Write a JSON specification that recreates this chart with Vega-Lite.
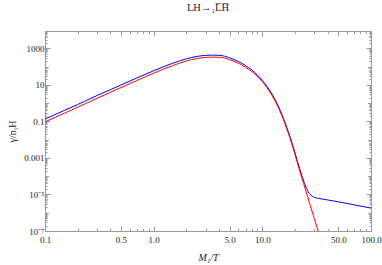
{
  "$schema": "https://vega.github.io/schema/vega-lite/v6.json",
  "width": 326,
  "height": 200,
  "autosize": {"type": "none"},
  "padding": {"left": 45, "top": 31, "right": 11, "bottom": 34},
  "background": "white",
  "config": {
    "view": {"stroke": "#999999", "strokeWidth": 1},
    "axis": {
      "grid": false,
      "domainColor": "#999999",
      "tickColor": "#999999",
      "labelFont": "Liberation Serif",
      "labelFontSize": 9,
      "labelColor": "#222222",
      "titleFont": "Liberation Serif",
      "titleFontWeight": "normal",
      "titleFontSize": 10,
      "titleColor": "#222222",
      "labelOverlap": false,
      "labelFlush": false
    }
  },
  "title": {
    "text": "LH→₁L̅H̅",
    "font": "Liberation Serif",
    "fontSize": 10.5,
    "fontWeight": "normal",
    "color": "#222222",
    "offset": 14,
    "anchor": "middle"
  },
  "data": {
    "values": [
      {"x": 0.1, "y": 0.135, "s": "b"},
      {"x": 0.15, "y": 0.4, "s": "b"},
      {"x": 0.2, "y": 0.85, "s": "b"},
      {"x": 0.3, "y": 2.6, "s": "b"},
      {"x": 0.4, "y": 5.5, "s": "b"},
      {"x": 0.5, "y": 10, "s": "b"},
      {"x": 0.7, "y": 24, "s": "b"},
      {"x": 1.0, "y": 60, "s": "b"},
      {"x": 1.5, "y": 155, "s": "b"},
      {"x": 2.0, "y": 270, "s": "b"},
      {"x": 2.5, "y": 365, "s": "b"},
      {"x": 3.0, "y": 415, "s": "b"},
      {"x": 3.5, "y": 432, "s": "b"},
      {"x": 4.0, "y": 420, "s": "b"},
      {"x": 4.5, "y": 375, "s": "b"},
      {"x": 5.0, "y": 305, "s": "b"},
      {"x": 6.0, "y": 195, "s": "b"},
      {"x": 7.0, "y": 115, "s": "b"},
      {"x": 8.0, "y": 66, "s": "b"},
      {"x": 10.0, "y": 18, "s": "b"},
      {"x": 12.0, "y": 4, "s": "b"},
      {"x": 14.0, "y": 0.72, "s": "b"},
      {"x": 16.0, "y": 0.105, "s": "b"},
      {"x": 18.0, "y": 0.014, "s": "b"},
      {"x": 20.0, "y": 0.0019, "s": "b"},
      {"x": 22.0, "y": 0.00027, "s": "b"},
      {"x": 24.0, "y": 0.000055, "s": "b"},
      {"x": 26.0, "y": 0.000017, "s": "b"},
      {"x": 27.0, "y": 0.0000115, "s": "b"},
      {"x": 28.0, "y": 0.0000091, "s": "b"},
      {"x": 29.0, "y": 0.0000078, "s": "b"},
      {"x": 30.0, "y": 0.000007, "s": "b"},
      {"x": 33.0, "y": 0.0000061, "s": "b"},
      {"x": 40.0, "y": 0.000005, "s": "b"},
      {"x": 50.0, "y": 0.000004, "s": "b"},
      {"x": 70.0, "y": 0.0000027, "s": "b"},
      {"x": 100.0, "y": 0.0000018, "s": "b"},
      {"x": 0.1, "y": 0.095, "s": "r"},
      {"x": 0.15, "y": 0.28, "s": "r"},
      {"x": 0.2, "y": 0.6, "s": "r"},
      {"x": 0.3, "y": 1.85, "s": "r"},
      {"x": 0.4, "y": 3.95, "s": "r"},
      {"x": 0.5, "y": 7.2, "s": "r"},
      {"x": 0.7, "y": 17.5, "s": "r"},
      {"x": 1.0, "y": 44, "s": "r"},
      {"x": 1.5, "y": 115, "s": "r"},
      {"x": 2.0, "y": 205, "s": "r"},
      {"x": 2.5, "y": 280, "s": "r"},
      {"x": 3.0, "y": 320, "s": "r"},
      {"x": 3.5, "y": 335, "s": "r"},
      {"x": 4.0, "y": 325, "s": "r"},
      {"x": 4.5, "y": 292, "s": "r"},
      {"x": 5.0, "y": 240, "s": "r"},
      {"x": 6.0, "y": 157, "s": "r"},
      {"x": 7.0, "y": 94, "s": "r"},
      {"x": 8.0, "y": 54, "s": "r"},
      {"x": 10.0, "y": 15, "s": "r"},
      {"x": 12.0, "y": 3.3, "s": "r"},
      {"x": 14.0, "y": 0.6, "s": "r"},
      {"x": 16.0, "y": 0.088, "s": "r"},
      {"x": 18.0, "y": 0.0116, "s": "r"},
      {"x": 20.0, "y": 0.00155, "s": "r"},
      {"x": 22.0, "y": 0.00021, "s": "r"},
      {"x": 24.0, "y": 0.000039, "s": "r"},
      {"x": 26.0, "y": 0.0000082, "s": "r"},
      {"x": 28.0, "y": 0.0000019, "s": "r"},
      {"x": 30.0, "y": 0.0000005, "s": "r"},
      {"x": 32.0, "y": 0.00000015, "s": "r"},
      {"x": 34.0, "y": 0.000000045, "s": "r"}
    ]
  },
  "layer": [
    {
      "transform": [{"filter": "datum.s == 'b'"}],
      "mark": {"type": "line", "color": "#0000ff", "strokeWidth": 1, "clip": true, "interpolate": "monotone"},
      "encoding": {
        "x": {
          "field": "x", "type": "quantitative",
          "scale": {"type": "log", "domain": [0.1, 100], "nice": false},
          "axis": {
            "orient": "bottom",
            "title": "M₁/T",
            "titleFontStyle": "italic",
            "titlePadding": 6,
            "values": [0.1,0.2,0.3,0.4,0.5,0.6,0.7,0.8,0.9,1,2,3,4,5,6,7,8,9,10,20,30,40,50,60,70,80,90,100],
            "labelExpr": "indexof([0.1,0.5,1,5,10,50,100], datum.value) >= 0 ? format(datum.value, '.1f') : ''",
            "tickSize": {"condition": {"test": "indexof([0.1,0.5,1,5,10,50,100], datum.value) >= 0", "value": -5}, "value": -2.5},
            "labelPadding": 9
          }
        },
        "y": {
          "field": "y", "type": "quantitative",
          "scale": {"type": "log", "domain": [1e-7, 9000], "nice": false},
          "axis": {
            "orient": "left",
            "title": "γ/nᵧH",
            "titlePadding": 6,
            "values": [1e-7,2e-7,3e-7,4e-7,5e-7,6e-7,7e-7,8e-7,9e-7,1e-6,2e-6,3e-6,4e-6,5e-6,6e-6,7e-6,8e-6,9e-6,1e-5,2e-5,3e-5,4e-5,5e-5,6e-5,7e-5,8e-5,9e-5,1e-4,2e-4,3e-4,4e-4,5e-4,6e-4,7e-4,8e-4,9e-4,0.001,0.002,0.003,0.004,0.005,0.006,0.007,0.008,0.009,0.01,0.02,0.03,0.04,0.05,0.06,0.07,0.08,0.09,0.1,0.2,0.3,0.4,0.5,0.6,0.7,0.8,0.9,1,2,3,4,5,6,7,8,9,10,20,30,40,50,60,70,80,90,100,200,300,400,500,600,700,800,900,1000,2000,3000,4000,5000,6000,7000,8000],
            "labelExpr": "datum.value == 1e-7 ? '10⁻⁷' : datum.value == 1e-5 ? '10⁻⁵' : datum.value == 0.001 ? '0.001' : datum.value == 0.1 ? '0.1' : datum.value == 10 ? '10' : datum.value == 1000 ? '1000' : ''",
            "tickSize": {"condition": [{"test": "indexof([1e-7,1e-5,0.001,0.1,10,1000], datum.value) >= 0", "value": -5}, {"test": "indexof([1e-6,1e-4,0.01,1,100], datum.value) >= 0", "value": -3.5}], "value": -2},
            "labelPadding": 6
          }
        }
      }
    },
    {
      "transform": [{"filter": "datum.s == 'r'"}],
      "mark": {"type": "line", "color": "#ff0000", "strokeWidth": 1, "clip": true, "interpolate": "monotone"},
      "encoding": {
        "x": {
          "field": "x", "type": "quantitative",
          "axis": {
            "orient": "top",
            "title": null,
            "labels": false,
            "values": [0.1,0.2,0.3,0.4,0.5,0.6,0.7,0.8,0.9,1,2,3,4,5,6,7,8,9,10,20,30,40,50,60,70,80,90,100],
            "tickSize": {"condition": {"test": "indexof([0.1,0.5,1,5,10,50,100], datum.value) >= 0", "value": -5}, "value": -2.5}
          }
        },
        "y": {
          "field": "y", "type": "quantitative",
          "axis": {
            "orient": "right",
            "title": null,
            "labels": false,
            "values": [1e-7,2e-7,3e-7,4e-7,5e-7,6e-7,7e-7,8e-7,9e-7,1e-6,2e-6,3e-6,4e-6,5e-6,6e-6,7e-6,8e-6,9e-6,1e-5,2e-5,3e-5,4e-5,5e-5,6e-5,7e-5,8e-5,9e-5,1e-4,2e-4,3e-4,4e-4,5e-4,6e-4,7e-4,8e-4,9e-4,0.001,0.002,0.003,0.004,0.005,0.006,0.007,0.008,0.009,0.01,0.02,0.03,0.04,0.05,0.06,0.07,0.08,0.09,0.1,0.2,0.3,0.4,0.5,0.6,0.7,0.8,0.9,1,2,3,4,5,6,7,8,9,10,20,30,40,50,60,70,80,90,100,200,300,400,500,600,700,800,900,1000,2000,3000,4000,5000,6000,7000,8000],
            "tickSize": {"condition": [{"test": "indexof([1e-7,1e-5,0.001,0.1,10,1000], datum.value) >= 0", "value": -5}, {"test": "indexof([1e-6,1e-4,0.01,1,100], datum.value) >= 0", "value": -3.5}], "value": -2}
          }
        }
      }
    }
  ],
  "resolve": {"scale": {"x": "shared", "y": "shared"}, "axis": {"x": "independent", "y": "independent"}}
}
